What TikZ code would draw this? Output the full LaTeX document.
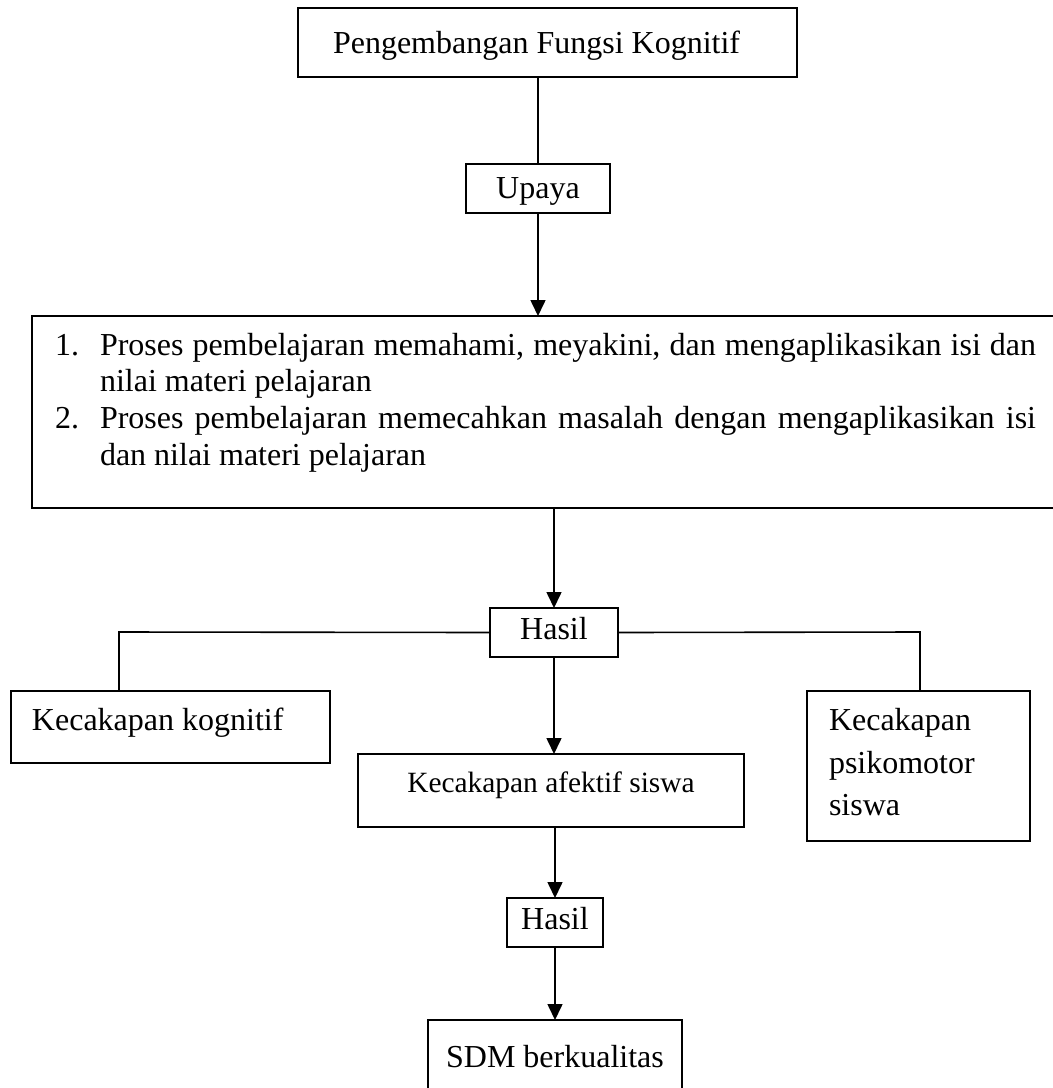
\documentclass[tikz,border=0pt]{standalone}
\usepackage{fontspec}
\setmainfont{Liberation Serif}
\usetikzlibrary{arrows.meta}
\tikzset{
  box/.style={draw, line width=0.9pt, rectangle, inner sep=0pt, outer sep=0pt, anchor=north west},
  conn/.style={line width=0.8pt},
  arr/.style={line width=0.8pt, -{Triangle[width=7.5pt,length=8pt]}},
  txt/.style={inner sep=0pt, outer sep=0pt, font=\fontsize{16pt}{18.35pt}\selectfont},
  smalltxt/.style={inner sep=0pt, outer sep=0pt, font=\fontsize{14.7pt}{17pt}\selectfont}
}
\begin{document}
\begin{tikzpicture}[x=0.5pt,y=-0.5pt]
\useasboundingbox (0,0) rectangle (1053,1088);
% boxes
\node[box, minimum width=249.5pt, minimum height=34.5pt] (top) at (298,8) {};
\node[box, minimum width=72pt, minimum height=24.5pt] (upaya) at (466,164) {};
\node[box, minimum width=515pt, minimum height=96pt] (big) at (32,316) {};
\node[box, minimum width=64pt, minimum height=24.5pt] (hasil1) at (490,608) {};
\node[box, minimum width=159.5pt, minimum height=36pt] (kog) at (11,691) {};
\node[box, minimum width=111.5pt, minimum height=75pt] (psi) at (807,691) {};
\node[box, minimum width=193pt, minimum height=36.5pt] (afe) at (358,754) {};
\node[box, minimum width=48pt, minimum height=24.5pt] (hasil2) at (507,898) {};
\node[box, minimum width=127pt, minimum height=40pt] (sdm) at (428,1020) {};
% texts
\node[txt, anchor=base west] (ttop) at (333,53) {Pengembangan Fungsi Kognitif};
\node[txt, anchor=base] (tupaya) at (538,198) {Upaya};
\node[txt, anchor=base west] (n1) at (55,355) {1.};
\node[txt, anchor=base west] (l1) at (100,355) {\makebox[468pt][s]{Proses pembelajaran memahami, meyakini, dan mengaplikasikan isi dan}};
\node[txt, anchor=base west] (l2) at (100,391) {nilai materi pelajaran};
\node[txt, anchor=base west] (n2) at (55,428) {2.};
\node[txt, anchor=base west] (l3) at (100,428) {\makebox[468pt][s]{Proses pembelajaran memecahkan masalah dengan mengaplikasikan isi}};
\node[txt, anchor=base west] (l4) at (100,465) {dan nilai materi pelajaran};
\node[txt, anchor=base] (thasil1) at (554,639) {Hasil};
\node[txt, anchor=base west] (tkog) at (32,730) {Kecakapan kognitif};
\node[txt, anchor=base west] (tpsi1) at (829,730) {Kecakapan};
\node[txt, anchor=base west] (tpsi2) at (829,773) {psikomotor};
\node[txt, anchor=base west] (tpsi3) at (829,815) {siswa};
\node[smalltxt, anchor=base] (tafe) at (551,792) {Kecakapan afektif siswa};
\node[txt, anchor=base] (thasil2) at (555,929) {Hasil};
\node[txt, anchor=base] (tsdm) at (555,1067) {SDM berkualitas};
% connectors
\coordinate (kl) at (119,632);
\coordinate (kr) at (920,632);
\draw[conn] (upaya.north |- top.south) -- (upaya.north);
\draw[arr] (upaya.south) -- (upaya.south |- big.north);
\draw[arr] (hasil1.north |- big.south) -- (hasil1.north);
\draw[conn] (hasil1.west) -- (kl) -- (kl |- kog.north);
\draw[conn] (hasil1.east) -- (kr) -- (kr |- psi.north);
\draw[arr] (hasil1.south) -- (hasil1.south |- afe.north);
\draw[arr] (hasil2.north |- afe.south) -- (hasil2.north);
\draw[arr] (hasil2.south) -- (hasil2.south |- sdm.north);
\end{tikzpicture}
\end{document}
